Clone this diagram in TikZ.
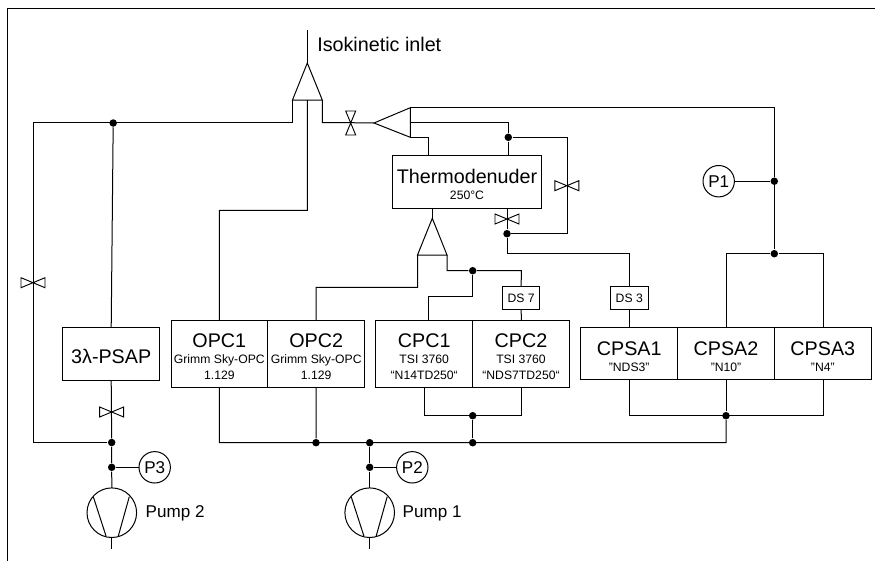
\documentclass[tikz,border=0pt]{standalone}
\usepackage{fontspec}
\setmainfont{Liberation Sans}
\newcommand{\bigf}{\fontsize{14.8}{12.4}\selectfont\rule{0pt}{15pt}}
\newcommand{\subf}{\fontsize{9.15}{12.4}\selectfont}
\tikzset{
  x=0.75pt,y=-0.75pt,
  every path/.style={line width=0.75pt,line join=miter},
  boxsize/.style 2 args={minimum width=#1*0.75pt,minimum height=#2*0.75pt},
  instr/.style={draw,rectangle,inner sep=0pt,outer sep=0pt,align=center,text=black},
  junc/.style={circle,fill=black,draw=none,inner sep=0pt,minimum size=7.5*0.75pt},
  gauge/.style={draw,circle,inner sep=0pt,outer sep=0pt,minimum size=31.4*0.75pt,font=\fontsize{12.8}{14}\selectfont},
  pump/.style={draw,circle,inner sep=0pt,outer sep=0pt,minimum size=49.6*0.75pt},
  lab/.style={inner sep=0pt,outer sep=0pt,anchor=west,font=\fontsize{12.8}{14}\selectfont},
  pics/valveh/.style={code={\draw[line width=0.7pt] (-12,-5)--(12,5)--(12,-5)--(-12,5)--cycle;}},
  pics/valvev/.style={code={\draw[line width=0.7pt] (-5,-12)--(5,12)--(-5,12)--(5,-12)--cycle;}},
}
\begin{document}
\begin{tikzpicture}
\useasboundingbox (0,0) rectangle (875,561);
% frame
\coordinate (fTL) at (7.3,8);
\coordinate (fTR) at (875,8);
\coordinate (fBL) at (7.3,561);
\draw (fTR)--(fTL)--(fBL);

% instruments
\node[instr,boxsize={149.4}{52.3}] (td) at (467,181.9) {\bigf Thermodenuder\\\subf 250°C};
\node[instr,boxsize={97}{52.3}] (psap) at (111.2,353.9) {\bigf 3λ-PSAP};
\node[instr,boxsize={96.7}{66.7}] (opc1) at (219.35,353.7) {\bigf OPC1\\\subf Grimm Sky-OPC\\\subf 1.129};
\node[instr,boxsize={97}{66.7}] (opc2) at (316.2,353.7) {\bigf OPC2\\\subf Grimm Sky-OPC\\\subf 1.129};
\node[instr,boxsize={97}{66.7}] (cpc1) at (424.2,353.7) {\bigf CPC1\\\subf TSI 3760\\\subf “N14TD250“};
\node[instr,boxsize={96.6}{66.7}] (cpc2) at (521,353.7) {\bigf CPC2\\\subf TSI 3760\\\subf “NDS7TD250“};
\node[instr,boxsize={97}{52.4}] (cpsa1) at (629.2,353.5) {\bigf CPSA1\\\subf "NDS3"};
\node[instr,boxsize={96.6}{52.4}] (cpsa2) at (726,353.5) {\bigf CPSA2\\\subf "N10"};
\node[instr,boxsize={97}{52.4}] (cpsa3) at (822.8,353.5) {\bigf CPSA3\\\subf "N4"};
\node[instr,boxsize={37.5}{22.6},font=\subf] (ds7) at (521.2,298) {DS 7};
\node[instr,boxsize={37.5}{22.6},font=\subf] (ds3) at (629.3,298) {DS 3};
\node[inner sep=0pt,outer sep=0pt,anchor=west,font=\fontsize{14.8}{16}\selectfont] (inlet) at (317.3,44) {Isokinetic inlet};

% gauges and pumps
\node[gauge] (p1) at (718.7,181.2) {P1};
\node[gauge] (p2) at (412.3,467.3) {P2};
\node[gauge] (p3) at (154.7,467.3) {P3};
\node[pump] (pump2) at (111.8,512.7) {};
\node[pump] (pump1) at (369.7,512.7) {};
\node[lab] (pump2lab) at (145.7,513) {Pump 2};
\node[lab] (pump1lab) at (402.7,513) {Pump 1};
\draw (93.3,496.7)--(106,536) (129.3,496.7)--(118.3,536);
\draw (351.2,496.7)--(363.9,536) (387.2,496.7)--(376.2,536);

% cones
\coordinate (coneA) at (307.3,63);
\coordinate (coneAl) at (292.5,100);
\coordinate (coneAr) at (322.3,100);
\coordinate (coneAm) at (307.3,100);
\draw (coneA)--(coneAl)--(coneAr)--cycle;
\coordinate (coneB) at (374,123);
\coordinate (coneBt) at (410.3,107.7);
\coordinate (coneBm) at (410.3,122.7);
\coordinate (coneBb) at (410.3,137.3);
\draw (coneB)--(coneBt)--(coneBb)--cycle;
\coordinate (coneC) at (432.3,218.3);
\coordinate (coneCl) at (417.5,255);
\coordinate (coneCr) at (447,255);
\draw (coneC)--(coneCl)--(coneCr)--cycle;

% junctions
\node[junc] (j1) at (113.2,123) {};
\node[junc] (j2) at (508.3,137.3) {};
\node[junc] (j3) at (507,233.7) {};
\node[junc] (j4) at (774.3,181.2) {};
\node[junc] (j5) at (774.3,253.7) {};
\node[junc] (j6) at (472.7,270.7) {};
\node[junc] (j7) at (472.7,415.7) {};
\node[junc] (j8) at (472.7,442.7) {};
\node[junc] (j9) at (726,415.7) {};
\node[junc] (j10) at (316,442.7) {};
\node[junc] (j11) at (369.7,442.7) {};
\node[junc] (j12) at (369.7,467.3) {};
\node[junc] (j13) at (111.7,442.5) {};
\node[junc] (j14) at (111.7,467.3) {};
\coordinate (bus0) at (219.3,442.7);
\coordinate (bus1) at (726,442.7);
\coordinate (inTop) at (307.3,30);

% connectors
\draw (coneA)--(inTop);
\draw (coneAl)--(292.5,122.7)--(33,122.7)--(33,442.5)--(j13);
\draw (coneAr)--(322.3,122.7)--(350.7,122.7)--(coneB);
\draw (coneAm)--(307.3,210.3)--(219.3,210.3)--(opc1.north);
\draw (j1)--(psap.north);
\draw (psap.south)--(j13)--(j14)--(pump2.north);
\draw (j14)--(p3);
\draw (pump2.south)--(111.8,549.3);
\draw (coneBt)--(774.3,107.7)--(j4)--(j5);
\draw (j4)--(p1);
\draw (coneBm)--(508.3,122.7)--(j2)--(508.3,155.7);
\draw (coneBb)--(428.3,137.3)--(428.3,155.7);
\draw (j2)--(567,137.3)--(567,233.7)--(j3);
\draw (507,208)--(j3)--(507,253.7)--(629.3,253.7)--(ds3.north);
\draw (ds3.south)--(629.3,327.3);
\draw (432.3,208)--(coneC);
\draw (coneCl)--(417.5,287.3)--(316,287.3)--(opc2.north);
\draw (coneCr)--(447,270.7)--(j6)--(521.3,270.7)--(ds7.north);
\draw (ds7.south)--(521.3,320.3);
\draw (j6)--(472.7,296.7)--(428,296.7)--(428,320.3);
\draw (opc1.south)--(bus0)--(bus1)--(j9);
\draw (opc2.south)--(j10);
\draw (j8)--(j7);
\draw (424.7,387)--(424.7,415.7)--(521.3,415.7)--(521.3,387);
\draw (j11)--(j12)--(pump1.north);
\draw (j12)--(p2);
\draw (pump1.south)--(369.7,549.3);
\draw (j5)--(726,253.7)--(726,327.3);
\draw (j5)--(823,253.7)--(823,327.3);
\draw (629.3,379.7)--(629.3,415.7)--(823,415.7)--(823,379.7);
\draw (726,379.7)--(j9);

% valves
\pic at (350.7,123) {valvev};
\pic at (33,282.7) {valveh};
\pic at (111.7,412) {valveh};
\pic at (507,219) {valveh};
\pic at (566.8,185.7) {valveh};
\end{tikzpicture}
\end{document}
